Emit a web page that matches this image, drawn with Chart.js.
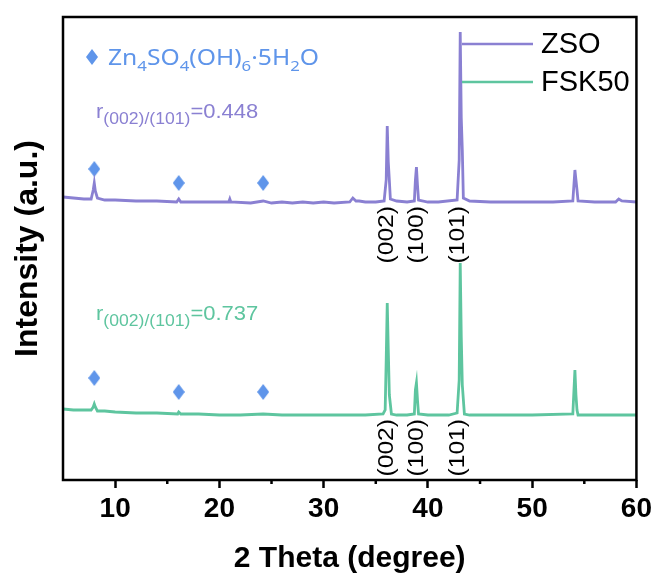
<!DOCTYPE html>
<html>
<head>
<meta charset="utf-8">
<script src="https://cdn.jsdelivr.net/npm/chart.js@4"></script>
<style>
  body { margin: 0; background: #fff; }
  #wrap { width: 656px; height: 578px; }
</style>
</head>
<body>
<div id="wrap"><canvas id="xrd" width="656" height="578"></canvas></div>
<script>
"use strict";

// XRD patterns, 2 theta (degree) vs stacked intensity (a.u.)
const zsoTheta = [5.0, 6.0, 7.0, 7.7, 7.9, 8.0, 8.1, 8.3, 9.0, 10, 12, 14, 15.9, 16.1, 16.3, 18, 20, 20.9, 21.0, 21.1, 23, 24.2, 25, 26, 27, 28, 29, 30, 31, 32.5, 32.8, 33.1, 33.4, 34, 35, 35.8, 36.0, 36.1, 36.2, 36.3, 36.4, 37, 38, 38.7, 38.8, 38.9, 39.0, 39.1, 40, 41, 42.8, 43.0, 43.1, 43.2, 43.3, 43.4, 44, 46, 48, 50, 52, 53.9, 54.1, 54.2, 54.3, 54.4, 56, 58, 58.3, 58.6, 60];
const zsoIntensity = [283, 282, 281, 281, 290, 297, 289, 282, 280, 280, 279, 279, 278, 281, 278, 278, 278, 278, 281, 278, 277, 279, 277, 278, 277, 278, 277, 278, 277, 278, 282, 279, 279, 278, 278, 279, 300, 354, 318, 300, 281, 279, 278, 279, 300, 313, 295, 280, 278, 278, 280, 320, 448, 362, 330, 282, 279, 278, 278, 278, 278, 279, 310, 300, 290, 279, 278, 278, 281, 279, 278];

const fskTheta = [5.0, 6.0, 7.0, 7.7, 7.9, 8.0, 8.1, 8.3, 9.0, 10, 12, 14, 16, 16.1, 16.3, 18, 20, 22, 24.2, 26, 28, 30, 32, 34, 35.7, 35.9, 36.0, 36.1, 36.2, 36.3, 36.5, 37, 38, 38.7, 38.8, 38.9, 39.0, 39.1, 40, 42, 42.8, 43.0, 43.1, 43.2, 43.3, 43.5, 44, 46, 50, 53.9, 54.1, 54.2, 54.3, 54.4, 56, 58, 60];
const fskIntensity = [71, 70, 70, 70, 73, 76, 73, 69, 69, 68, 67, 67, 66, 68, 66, 66, 65, 65, 66, 65, 65, 65, 65, 65, 66, 70, 120, 177, 130, 85, 66, 65, 65, 66, 90, 97, 80, 66, 65, 65, 67, 100, 217, 143, 95, 66, 65, 65, 65, 66, 110, 85, 70, 65, 65, 65, 65];

// Zn4SO4(OH)6·5H2O reflections (diamond marks)
const markerTheta = [8.0, 16.1, 24.2];
const markerZso = [311, 297, 297];
const markerFsk = [102, 88, 88];

// peak indexing labels
const peakNames = ["(002)", "(100)", "(101)"];
const peakLabelTheta = [36.1, 38.9, 42.9];
const peakLabelTopZso = 274;
const peakLabelTopFsk = 61;

const xTicks = [10, 20, 30, 40, 50, 60];
const xMinorTicks = [15, 25, 35, 45, 55];

const seriesNames = ["ZSO", "FSK50"];
const ratioZso = "0.448";
const ratioFsk = "0.737";

const purple = "#8a80d2";
const green = "#5ec59f";
const blue = "#5f95ea";

let toPoints = (xs, ys) => xs.map((x, i) => ({ x: x, y: ys[i] }));

let makeDiamond = (w, h, color) => {
  let c = document.createElement("canvas");
  c.width = w;
  c.height = h;
  let g = c.getContext("2d");
  g.fillStyle = color;
  g.beginPath();
  g.moveTo(w / 2, 0);
  g.lineTo(w, h / 2);
  g.lineTo(w / 2, h);
  g.lineTo(0, h / 2);
  g.closePath();
  g.fill();
  return c;
};
const diamond = makeDiamond(12, 16, blue);

// draw text with sub-scripts: parts = [text, size, dy], sx = horizontal stretch
let drawParts = (ctx, x, y, parts, family, color, sx) => {
  ctx.save();
  ctx.translate(x, y);
  ctx.scale(sx, 1);
  ctx.fillStyle = color;
  ctx.textBaseline = "alphabetic";
  ctx.textAlign = "left";
  let cx = 0;
  for (let p of parts) {
    ctx.font = `${p[1]}px ${family}`;
    ctx.fillText(p[0], cx, p[2]);
    cx += ctx.measureText(p[0]).width;
  }
  ctx.restore();
};

const decorations = {
  id: "decorations",
  afterDatasetsDraw(chart) {
    let ctx = chart.ctx;
    let area = chart.chartArea;
    let xs = chart.scales.x;
    let ys = chart.scales.y;
    ctx.save();

    // frame
    ctx.strokeStyle = "#000";
    ctx.lineWidth = 2.5;
    ctx.strokeRect(area.left, area.top, area.right - area.left, area.bottom - area.top);

    // minor ticks
    ctx.beginPath();
    for (let v of xMinorTicks) {
      let px = xs.getPixelForValue(v);
      ctx.moveTo(px, area.bottom);
      ctx.lineTo(px, area.bottom + 4);
    }
    ctx.stroke();

    // legend
    let leg = [[seriesNames[0], purple, 44], [seriesNames[1], green, 82]];
    for (let l of leg) {
      ctx.strokeStyle = l[1];
      ctx.lineWidth = 2.5;
      ctx.beginPath();
      ctx.moveTo(462, l[2]);
      ctx.lineTo(533, l[2]);
      ctx.stroke();
      ctx.fillStyle = "#000";
      ctx.font = "29px Arial, 'Liberation Sans'";
      ctx.textBaseline = "middle";
      ctx.textAlign = "left";
      ctx.fillText(l[0], 541, l[2] + 1);
    }

    // phase label
    ctx.drawImage(diamond, 86, 49);
    drawParts(ctx, 108, 65, [["Zn", 22, 0], ["4", 15, 6], ["SO", 22, 0], ["4", 15, 6], ["(OH)", 22, 0], ["6", 15, 6], ["·5H", 22, 0], ["2", 15, 6], ["O", 22, 0]], "'Noto Sans'", blue, 1.12);

    // ratio labels
    drawParts(ctx, 96, 118, [["r", 20, 0], ["(002)/(101)", 16, 6], ["=" + ratioZso, 20, 0]], "Arial, 'Liberation Sans'", purple, 1.1);
    drawParts(ctx, 96, 320, [["r", 20, 0], ["(002)/(101)", 16, 6], ["=" + ratioFsk, 20, 0]], "Arial, 'Liberation Sans'", green, 1.1);

    // peak labels (rotated, reading upward)
    ctx.fillStyle = "#000";
    ctx.font = "22px Arial, 'Liberation Sans'";
    ctx.textBaseline = "middle";
    ctx.textAlign = "right";
    for (let top of [peakLabelTopZso, peakLabelTopFsk]) {
      let py = ys.getPixelForValue(top);
      peakNames.forEach((name, i) => {
        ctx.save();
        ctx.translate(xs.getPixelForValue(peakLabelTheta[i]), py);
        ctx.rotate(-Math.PI / 2);
        ctx.scale(1.12, 1);
        ctx.fillText(name, 0, 0);
        ctx.restore();
      });
    }
    ctx.restore();
  }
};

const tickFont = { family: "Arial, 'Liberation Sans'", size: 28, weight: "bold" };
const xTitleFont = { family: "Arial, 'Liberation Sans'", size: 30, weight: "bold" };
const yTitleFont = { family: "Arial, 'Liberation Sans'", size: 32, weight: "bold" };

new Chart(document.querySelector("#xrd"), {
  type: "line",
  data: {
    datasets: [
      {
        label: seriesNames[0],
        data: toPoints(zsoTheta, zsoIntensity),
        borderColor: purple,
        borderWidth: 2.8,
        pointRadius: 0,
        tension: 0
      },
      {
        label: seriesNames[1],
        data: toPoints(fskTheta, fskIntensity),
        borderColor: green,
        borderWidth: 2.8,
        pointRadius: 0,
        tension: 0
      },
      {
        label: "Zn4SO4(OH)6·5H2O",
        data: toPoints(markerTheta, markerZso).concat(toPoints(markerTheta, markerFsk)),
        showLine: false,
        pointStyle: diamond,
        pointRadius: 8
      }
    ]
  },
  options: {
    responsive: false,
    animation: false,
    layout: { padding: { top: 17, right: 19, bottom: 0, left: 0 } },
    plugins: { legend: { display: false }, tooltip: { enabled: false } },
    scales: {
      x: {
        type: "linear",
        min: 5,
        max: 60,
        afterBuildTicks: s => { s.ticks = xTicks.map(v => ({ value: v })); },
        afterFit: s => { s.height = 98; },
        grid: { display: true, drawOnChartArea: false, drawTicks: true, tickLength: 8, tickWidth: 2.5, tickColor: "#000" },
        border: { display: false },
        ticks: { color: "#000", font: tickFont, padding: 4, maxRotation: 0 },
        title: { display: true, text: "2 Theta (degree)", color: "#000", font: xTitleFont, padding: { top: 0, bottom: 1 } }
      },
      y: {
        min: 0,
        max: 463,
        afterFit: s => { s.width = 63; },
        ticks: { display: false },
        grid: { display: false },
        border: { display: false },
        title: { display: true, text: "Intensity (a.u.)", color: "#000", font: yTitleFont, padding: { top: 9, bottom: 0 } }
      }
    }
  },
  plugins: [decorations]
});
</script>
</body>
</html>
